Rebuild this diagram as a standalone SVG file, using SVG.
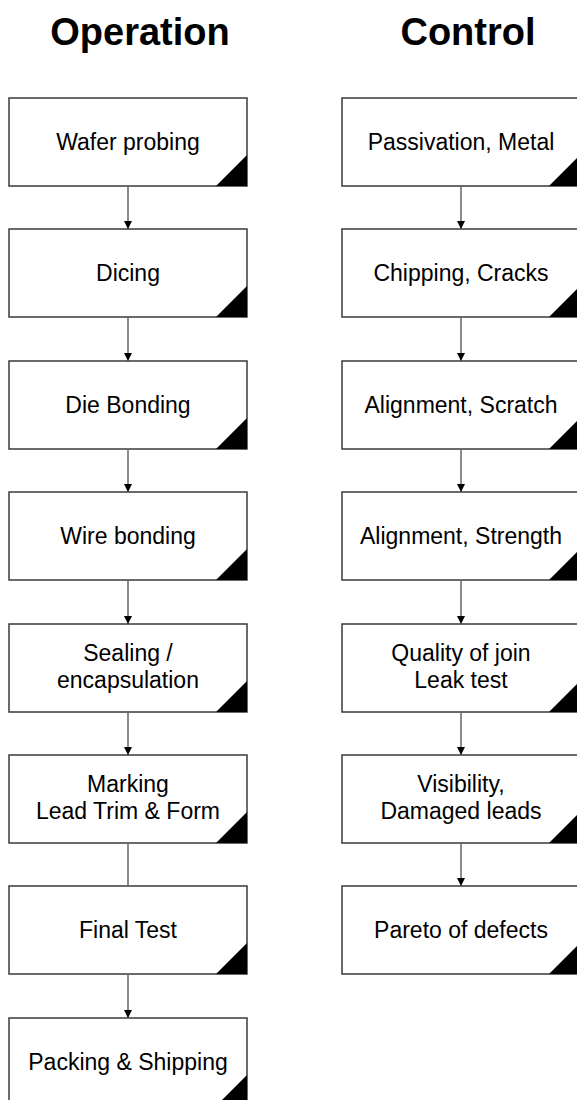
<svg xmlns="http://www.w3.org/2000/svg" width="577" height="1100" viewBox="0 0 577 1100">
<style>
.title{font-family:"Liberation Sans",Arial,sans-serif;font-weight:bold;font-size:38px;fill:#000;text-anchor:middle}
.lbl{font-family:"Liberation Sans",Arial,sans-serif;font-size:23px;fill:#000;text-anchor:middle}
.box{fill:#fff;stroke:#3a3a3a;stroke-width:1.5}
.tri{fill:#000}
.conn{stroke:#666;stroke-width:1.5;fill:none}
</style>
<defs>
<marker id="ah" markerWidth="8" markerHeight="8" refX="8" refY="4" orient="auto" markerUnits="userSpaceOnUse" viewBox="0 0 8 8">
<path d="M0,0 L8,4 L0,8 Z" fill="#000"/>
</marker>
</defs>
<rect width="577" height="1100" fill="#fff"/>
<text class="title" x="140" y="45">Operation</text>
<text class="title" x="468" y="45">Control</text>

<g id="op1"><rect class="box" x="9" y="98" width="238" height="88"/><path class="tri" d="M216,186 L247,155 L247,186 Z"/><text class="lbl" x="128" y="150">Wafer probing</text></g>
<g id="op2"><rect class="box" x="9" y="229" width="238" height="88"/><path class="tri" d="M216,317 L247,286 L247,317 Z"/><text class="lbl" x="128" y="281">Dicing</text></g>
<g id="op3"><rect class="box" x="9" y="361" width="238" height="88"/><path class="tri" d="M216,449 L247,418 L247,449 Z"/><text class="lbl" x="128" y="413">Die Bonding</text></g>
<g id="op4"><rect class="box" x="9" y="492" width="238" height="88"/><path class="tri" d="M216,580 L247,549 L247,580 Z"/><text class="lbl" x="128" y="544">Wire bonding</text></g>
<g id="op5"><rect class="box" x="9" y="624" width="238" height="88"/><path class="tri" d="M216,712 L247,681 L247,712 Z"/><text class="lbl" x="128" y="661">Sealing /</text><text class="lbl" x="128" y="688">encapsulation</text></g>
<g id="op6"><rect class="box" x="9" y="755" width="238" height="88"/><path class="tri" d="M216,843 L247,812 L247,843 Z"/><text class="lbl" x="128" y="792">Marking</text><text class="lbl" x="128" y="819">Lead Trim &amp; Form</text></g>
<g id="op7"><rect class="box" x="9" y="886" width="238" height="88"/><path class="tri" d="M216,974 L247,943 L247,974 Z"/><text class="lbl" x="128" y="938">Final Test</text></g>
<g id="op8"><rect class="box" x="9" y="1018" width="238" height="88"/><path class="tri" d="M216,1106 L247,1075 L247,1106 Z"/><text class="lbl" x="128" y="1070">Packing &amp; Shipping</text></g>

<g id="ct1"><rect class="box" x="342" y="98" width="238" height="88"/><path class="tri" d="M549,186 L580,155 L580,186 Z"/><text class="lbl" x="461" y="150">Passivation, Metal</text></g>
<g id="ct2"><rect class="box" x="342" y="229" width="238" height="88"/><path class="tri" d="M549,317 L580,286 L580,317 Z"/><text class="lbl" x="461" y="281">Chipping, Cracks</text></g>
<g id="ct3"><rect class="box" x="342" y="361" width="238" height="88"/><path class="tri" d="M549,449 L580,418 L580,449 Z"/><text class="lbl" x="461" y="413">Alignment, Scratch</text></g>
<g id="ct4"><rect class="box" x="342" y="492" width="238" height="88"/><path class="tri" d="M549,580 L580,549 L580,580 Z"/><text class="lbl" x="461" y="544">Alignment, Strength</text></g>
<g id="ct5"><rect class="box" x="342" y="624" width="238" height="88"/><path class="tri" d="M549,712 L580,681 L580,712 Z"/><text class="lbl" x="461" y="661">Quality of join</text><text class="lbl" x="461" y="688">Leak test</text></g>
<g id="ct6"><rect class="box" x="342" y="755" width="238" height="88"/><path class="tri" d="M549,843 L580,812 L580,843 Z"/><text class="lbl" x="461" y="792">Visibility,</text><text class="lbl" x="461" y="819">Damaged leads</text></g>
<g id="ct7"><rect class="box" x="342" y="886" width="238" height="88"/><path class="tri" d="M549,974 L580,943 L580,974 Z"/><text class="lbl" x="461" y="938">Pareto of defects</text></g>

<g id="connectors">
<line class="conn" x1="128" y1="186" x2="128" y2="229" marker-end="url(#ah)"/>
<line class="conn" x1="128" y1="317" x2="128" y2="361" marker-end="url(#ah)"/>
<line class="conn" x1="128" y1="449" x2="128" y2="492" marker-end="url(#ah)"/>
<line class="conn" x1="128" y1="580" x2="128" y2="624" marker-end="url(#ah)"/>
<line class="conn" x1="128" y1="712" x2="128" y2="755" marker-end="url(#ah)"/>
<line class="conn" x1="128" y1="843" x2="128" y2="886"/>
<line class="conn" x1="128" y1="974" x2="128" y2="1018" marker-end="url(#ah)"/>
<line class="conn" x1="461" y1="186" x2="461" y2="229" marker-end="url(#ah)"/>
<line class="conn" x1="461" y1="317" x2="461" y2="361" marker-end="url(#ah)"/>
<line class="conn" x1="461" y1="449" x2="461" y2="492" marker-end="url(#ah)"/>
<line class="conn" x1="461" y1="580" x2="461" y2="624" marker-end="url(#ah)"/>
<line class="conn" x1="461" y1="712" x2="461" y2="755" marker-end="url(#ah)"/>
<line class="conn" x1="461" y1="843" x2="461" y2="886" marker-end="url(#ah)"/>
</g>
</svg>
